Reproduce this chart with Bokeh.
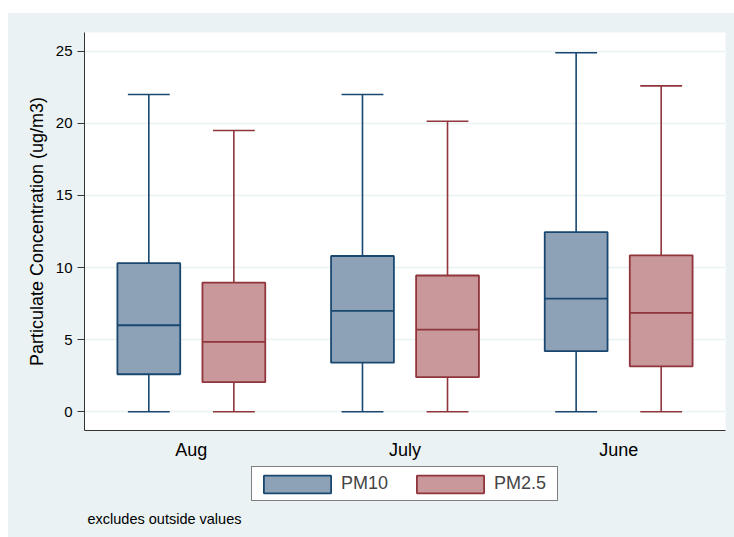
from bokeh.plotting import figure
from bokeh.models import (ColumnDataSource, FactorRange, Range1d, Legend, LegendItem,
                          Label, FixedTicker, Spacer)
from bokeh.transform import dodge
from bokeh.layouts import column, row
from bokeh.embed import file_html
from bokeh.resources import INLINE

months = ["Aug", "July", "June"]
tick_values = [0, 5, 10, 15, 20, 25]

pm10_min = [0, 0, 0]
pm10_q1 = [2.6, 3.4, 4.2]
pm10_med = [6.0, 7.0, 7.85]
pm10_q3 = [10.3, 10.8, 12.45]
pm10_max = [22.0, 22.0, 24.9]

pm25_min = [0, 0, 0]
pm25_q1 = [2.05, 2.4, 3.15]
pm25_med = [4.85, 5.7, 6.85]
pm25_q3 = [8.95, 9.45, 10.85]
pm25_max = [19.5, 20.15, 22.6]

FONT = "Liberation Sans"
BG = "#eaf2f3"
series = [
    ("PM10", pm10_min, pm10_q1, pm10_med, pm10_q3, pm10_max, -0.199, "#8da2b7", "#1a476f"),
    ("PM2.5", pm25_min, pm25_q1, pm25_med, pm25_q3, pm25_max, 0.199, "#c9989b", "#90353b"),
]

p = figure(width=726, height=449, output_backend="svg", toolbar_location=None,
           x_range=FactorRange(factors=months, range_padding=0),
           y_range=Range1d(-1.3, 26.3),
           min_border_left=76, min_border_right=9, min_border_top=19, min_border_bottom=31)
p.background_fill_color = "white"
p.border_fill_color = BG
p.outline_line_color = None

BW = 0.294
CW = 0.196
for name, mn, q1, med, q3, mx, off, fill, line in series:
    src = ColumnDataSource(dict(month=months, mn=mn, q1=q1, med=med, q3=q3, mx=mx))
    xc = dodge("month", off, range=p.x_range)
    p.segment(x0=xc, x1=xc, y0="q3", y1="mx", source=src, line_color=line, line_width=1.6)
    p.segment(x0=xc, x1=xc, y0="mn", y1="q1", source=src, line_color=line, line_width=1.6)
    p.segment(x0=dodge("month", off - CW / 2, range=p.x_range),
              x1=dodge("month", off + CW / 2, range=p.x_range),
              y0="mx", y1="mx", source=src, line_color=line, line_width=1.6)
    p.segment(x0=dodge("month", off - CW / 2, range=p.x_range),
              x1=dodge("month", off + CW / 2, range=p.x_range),
              y0="mn", y1="mn", source=src, line_color=line, line_width=1.6)
    p.vbar(x=xc, width=BW, top="q3", bottom="q1", source=src,
           fill_color=fill, line_color=line, line_width=1.8)
    p.segment(x0=dodge("month", off - BW / 2, range=p.x_range),
              x1=dodge("month", off + BW / 2, range=p.x_range),
              y0="med", y1="med", source=src, line_color=line, line_width=1.8)

# axes
p.yaxis.ticker = FixedTicker(ticks=tick_values)
p.yaxis.axis_label = "Particulate Concentration (ug/m3)"
p.yaxis.axis_label_text_font = FONT
p.yaxis.axis_label_text_font_size = "18px"
p.yaxis.axis_label_text_font_style = "normal"
p.yaxis.axis_label_text_color = "black"
p.yaxis.axis_label_standoff = 6
p.yaxis.major_label_text_font = FONT
p.yaxis.major_label_text_font_size = "15px"
p.yaxis.major_label_text_color = "black"
p.yaxis.major_label_orientation = "horizontal"
p.yaxis.major_tick_out = 7
p.yaxis.major_tick_in = 0
p.yaxis.minor_tick_line_color = None
p.yaxis.major_label_standoff = 5
p.yaxis.axis_line_color = "#333333"
p.yaxis.major_tick_line_color = "#333333"

p.xaxis.major_label_text_font = FONT
p.xaxis.major_label_text_font_size = "18px"
p.xaxis.major_label_text_color = "black"
p.xaxis.major_tick_line_color = None
p.xaxis.major_tick_out = 0
p.xaxis.major_label_standoff = 9
p.xaxis.axis_line_color = "#333333"

p.xgrid.grid_line_color = None
p.ygrid.grid_line_color = BG
p.ygrid.grid_line_width = 1.5

# bottom strip with legend and note (legend proxies are hidden renderers)
p2 = figure(width=726, height=75, output_backend="svg", toolbar_location=None,
            x_range=FactorRange(factors=months, range_padding=0),
            y_range=Range1d(30, 31),
            x_axis_location=None, y_axis_location=None,
            min_border=0, min_border_left=0, min_border_right=0,
            min_border_top=0, min_border_bottom=0)
p2.grid.visible = False
p2.background_fill_color = BG
p2.border_fill_color = BG
p2.outline_line_color = None

items = []
for name, mn, q1, med, q3, mx, off, fill, line in series:
    src2 = ColumnDataSource(dict(month=months, q1=q1, q3=q3))
    r = p2.vbar(x=dodge("month", off, range=p2.x_range), width=BW, top="q3", bottom="q1",
                source=src2, fill_color=fill, line_color=line, line_width=1.8)
    r.visible = False
    items.append(LegendItem(label=name, renderers=[r]))

legend = Legend(items=items, orientation="horizontal", location=(167, 36),
                glyph_width=84, glyph_height=22, label_standoff=2, spacing=7,
                label_width=60, label_height=27,
                padding=3, margin=0,
                inactive_fill_alpha=0,
                label_text_font=FONT, label_text_font_size="18px",
                border_line_color="black", border_line_width=1,
                background_fill_color="white", background_fill_alpha=1)
p2.add_layout(legend, "center")

note = Label(x=3, y=19, x_units="screen", y_units="screen",
             text="excludes outside values", text_font=FONT,
             text_baseline="middle",
             text_font_size="14.5px", text_color="black")
p2.add_layout(note)

charts = column(p, p2, spacing=0, styles={"background-color": BG})
layout = row(Spacer(width=8), column(Spacer(height=13), charts, spacing=0), spacing=0)
open("out.html", "w").write(file_html(layout, INLINE))
